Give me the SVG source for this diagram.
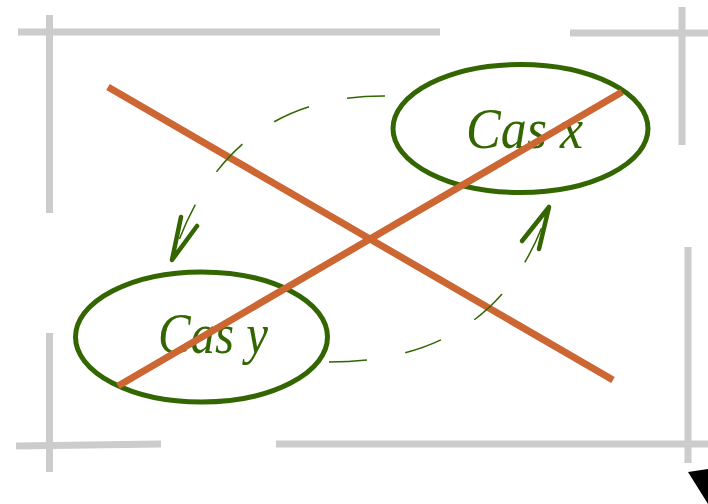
<svg xmlns="http://www.w3.org/2000/svg" width="708" height="504" viewBox="0 0 708 504">
  <style>
    .frame { stroke: #cccccc; stroke-width: 7; fill: none; }
    .node { fill: none; stroke: #336600; stroke-width: 5; }
    .label { font-family: "Liberation Serif", "DejaVu Serif", serif; font-style: italic; font-size: 56px; fill: #336600; }
    .cross { stroke: #cc6633; stroke-width: 7; fill: none; }
    .arc { fill: none; stroke: #336600; stroke-width: 1.5; stroke-dasharray: 38 39; }
    .head { fill: none; stroke: #336600; stroke-width: 4.5; stroke-linecap: round; stroke-linejoin: round; }
  </style>
  <rect width="708" height="504" fill="#ffffff"/>
  <g id="frame">
    <line class="frame" x1="18" y1="32" x2="440" y2="32"/>
    <line class="frame" x1="49.5" y1="15" x2="49.5" y2="213"/>
    <line class="frame" x1="570" y1="33" x2="708" y2="33"/>
    <line class="frame" x1="682" y1="7" x2="682" y2="145"/>
    <line class="frame" x1="16" y1="446" x2="161" y2="444"/>
    <line class="frame" x1="49.5" y1="333" x2="49.5" y2="472"/>
    <line class="frame" x1="276" y1="444" x2="708" y2="444"/>
    <line class="frame" x1="688" y1="247" x2="688" y2="463"/>
  </g>
  <g id="node-cas-x">
    <ellipse class="node" cx="520.5" cy="128.5" rx="127.5" ry="64"/>
    <text class="label" x="466" y="148" textLength="117" lengthAdjust="spacingAndGlyphs">Cas x</text>
  </g>
  <g id="node-cas-y">
    <ellipse class="node" cx="201.5" cy="337" rx="126" ry="65"/>
    <text class="label" x="158" y="353" textLength="110" lengthAdjust="spacingAndGlyphs">Cas y</text>
  </g>
  <g id="cross">
    <line class="cross" x1="108" y1="87" x2="613" y2="380"/>
    <line class="cross" x1="118" y1="386" x2="622" y2="92"/>
  </g>
  <g id="connectors">
    <path class="arc" d="M385,96 Q225,95 172,260"/>
    <polyline class="head" points="181,217 172,260 197,226"/>
    <path class="arc" d="M329,362 Q500,362 549,207"/>
    <polyline class="head" points="522,241 549,207 539,249"/>
  </g>
  <polygon points="688,472 708,469 708,504" fill="#000000"/>
</svg>
